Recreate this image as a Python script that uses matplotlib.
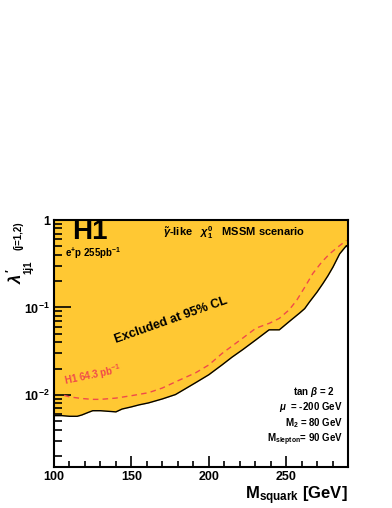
import matplotlib
matplotlib.use("Agg")
import matplotlib.pyplot as plt
import numpy as np
from matplotlib.ticker import FixedLocator, FixedFormatter, MultipleLocator, LogLocator, NullFormatter

plt.rcParams['font.family'] = ['Liberation Sans', 'DejaVu Sans']
plt.rcParams['font.weight'] = 'bold'
plt.rcParams['mathtext.fontset'] = 'custom'
plt.rcParams['mathtext.rm'] = 'Liberation Sans:bold'
plt.rcParams['mathtext.it'] = 'Liberation Sans:italic:bold'
plt.rcParams['mathtext.bf'] = 'Liberation Sans:bold'

# --- data ---
limit_mass = [100, 105, 110, 115, 118, 122, 125, 130, 135, 140, 144, 150, 155, 161, 170,
              178.5, 185, 191.5, 200, 208.8, 215, 222, 230.5, 239, 245.6, 252, 258.6,
              262, 265, 270, 273.8, 277, 280.3, 284.6, 289, 290]
limit_lambda = [0.0058, 0.0058, 0.0057, 0.0057, 0.0059, 0.0063, 0.0066, 0.0066, 0.0065,
                0.0064, 0.0069, 0.0073, 0.0077, 0.0081, 0.0090, 0.0101, 0.0118, 0.0138,
                0.0170, 0.0222, 0.027, 0.033, 0.0427, 0.0555, 0.0555, 0.069, 0.086,
                0.097, 0.115, 0.150, 0.188, 0.23, 0.29, 0.41, 0.51, 0.48]

old_mass = [106.5, 110, 118, 125, 130, 140, 150, 161, 170, 180, 191.5, 200, 208.8, 220,
            230.5, 239.2, 245.6, 252, 257, 262, 267.3, 273, 278.1, 284, 289]
old_lambda = [0.0099, 0.0095, 0.0091, 0.0089, 0.0089, 0.0092, 0.0098, 0.0106, 0.0120,
              0.0145, 0.0179, 0.022, 0.030, 0.042, 0.058, 0.066, 0.075, 0.094, 0.122,
              0.17, 0.245, 0.33, 0.41, 0.50, 0.585]

x_ticks = [100, 150, 200, 250]
x_ticklabels = ['100', '150', '200', '250']
y_ticks = [1e-2, 1e-1, 1]
y_ticklabels = [r'10$^{-2}$', r'10$^{-1}$', '1']

W, H = 392, 508
fig = plt.figure(figsize=(W / 100, H / 100), dpi=100)
ax = fig.add_axes([54 / W, 1 - 467 / H, 294 / W, 247 / H])

ax.set_xlim(100, 290)
ax.set_ylim(1.5e-3, 1.0)
ax.set_yscale('log')

fill_col = '#FFC833'
ax.fill_between(limit_mass, limit_lambda, 1.0, color=fill_col, lw=0, zorder=1)
ax.plot(limit_mass, limit_lambda, color='black', lw=1.0, zorder=3)
ax.plot(old_mass, old_lambda, color='#F04A4A', lw=1.0, ls=(0, (4, 3)), zorder=2)

ax.xaxis.set_major_locator(FixedLocator(x_ticks))
ax.xaxis.set_major_formatter(FixedFormatter(x_ticklabels))
ax.xaxis.set_minor_locator(MultipleLocator(10))
ax.yaxis.set_major_locator(FixedLocator(y_ticks))
ax.yaxis.set_major_formatter(FixedFormatter(y_ticklabels))
ax.yaxis.set_minor_locator(LogLocator(base=10, subs=np.arange(2, 10)))
ax.yaxis.set_minor_formatter(NullFormatter())

ax.tick_params(axis='both', which='both', direction='in', top=False, right=False,
               width=1.2, labelsize=9)
ax.tick_params(axis='x', which='major', length=8, pad=3)
ax.tick_params(axis='x', which='minor', length=4)
ax.tick_params(axis='y', which='major', length=12, pad=3)
ax.tick_params(axis='y', which='minor', length=6)
for lab in ax.get_xticklabels() + ax.get_yticklabels():
    lab.set_fontweight('bold')
for s in ax.spines.values():
    s.set_linewidth(1.5)

def ft(x, y, s, **kw):
    fig.text(x / W, 1 - y / H, s, **kw)

# labels inside
ft(72, 232, 'H1', fontsize=20, fontweight='bold', ha='left', va='center')
ft(65, 253, r'e$^{+}$p 255pb$^{-1}$', fontsize=7, fontweight='bold', ha='left', va='center')
ft(163, 233, r'$\tilde{\gamma}$-like   $\chi_1^0$   MSSM scenario', fontsize=8,
   fontweight='bold', ha='left', va='center')
ft(171, 320, 'Excluded at 95% CL', fontsize=9, fontweight='bold', rotation=19.5,
   ha='center', va='center', rotation_mode='anchor')
ft(93, 375, r'H1 64.3 pb$^{-1}$', fontsize=7, fontweight='bold', color='#F04A4A',
   rotation=12, ha='center', va='center', rotation_mode='anchor')

ft(335, 392, r'tan $\beta$ = 2', fontsize=7, fontweight='bold', ha='right', va='center')
ft(343, 407, r'$\mu$  = -200 GeV', fontsize=7, fontweight='bold', ha='right', va='center')
ft(343, 423, r'M$_{2}$ = 80 GeV', fontsize=7, fontweight='bold', ha='right', va='center')
ft(343, 440, r'M$_{\mathrm{slepton}}$= 90 GeV', fontsize=7, fontweight='bold', ha='right', va='center')

# axis titles
ft(348, 499, r'M$_{\mathrm{squark}}$ [GeV]', fontsize=12, fontweight='bold', ha='right', va='baseline')
ft(14, 276, r"$\lambda'$", fontsize=12, rotation=90, ha='center', va='center')
ft(28, 267, '1j1', fontsize=7, fontweight='bold', rotation=90, ha='center', va='center')
ft(18, 236, '(j=1,2)', fontsize=7, fontweight='bold', rotation=90, ha='center', va='center')

fig.savefig('out.png', dpi=100)
